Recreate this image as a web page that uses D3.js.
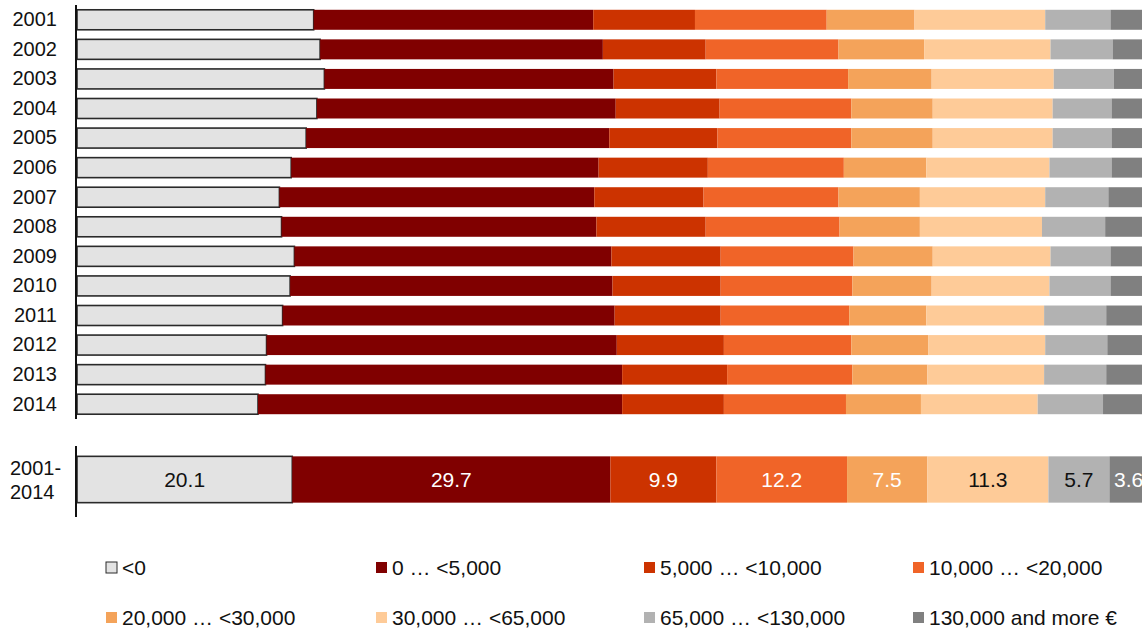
<!DOCTYPE html>
<html>
<head>
<meta charset="utf-8">
<script src="https://cdn.jsdelivr.net/npm/d3@7"></script>
<style>
html,body{margin:0;padding:0;background:#fff;}
svg{display:block;font-family:"Liberation Sans",Arial,sans-serif;}
</style>
</head>
<body>
<svg id="chart" width="1142" height="629"></svg>
<script>
const years = ["2001","2002","2003","2004","2005","2006","2007","2008","2009","2010","2011","2012","2013","2014"];
const seriesNames = ["<0","0 … <5,000","5,000 … <10,000","10,000 … <20,000","20,000 … <30,000","30,000 … <65,000","65,000 … <130,000","130,000 and more €"];
const colors = ["#e3e3e3","#800000","#cc3300","#f06428","#f4a35a","#fecb98","#b2b2b2","#808080"];
// per-year shares (%) per series
const s_lt0    = [22.1,22.7,23.1,22.4,21.4,20.0,18.9,19.1,20.3,19.9,19.2,17.7,17.6,16.9];
const s_0_5k   = [26.1,26.4,27.0,27.9,28.3,28.7,29.4,29.4,29.6,30.1,31.0,32.7,33.3,34.0];
const s_5_10k  = [ 9.5, 9.6, 9.6, 9.7,10.1,10.2,10.2,10.2,10.2,10.1, 9.9,10.0, 9.8, 9.5];
const s_10_20k = [12.3,12.4,12.3,12.3,12.5,12.7,12.6,12.5,12.4,12.3,12.0,11.9,11.7,11.4];
const s_20_30k = [ 8.2, 8.0, 7.8, 7.6, 7.6, 7.7, 7.6, 7.5, 7.4, 7.4, 7.2, 7.2, 7.0, 7.0];
const s_30_65k = [12.2,11.8,11.4,11.2,11.2,11.5,11.7,11.4,11.0,11.0,11.0,10.9,10.9,10.9];
const s_65_130k= [ 6.1, 5.8, 5.6, 5.5, 5.5, 5.8, 5.9, 5.9, 5.6, 5.7, 5.8, 5.8, 5.8, 6.1];
const s_130k   = [ 3.6, 3.3, 3.2, 3.3, 3.3, 3.4, 3.6, 4.0, 3.6, 3.7, 3.8, 3.8, 3.9, 4.2];
const summaryLabel = ["2001-","2014"];
const summaryValues = [20.1,29.7,9.9,12.2,7.5,11.3,5.7,3.6];
const summaryTextColors = ["#111","#fff","#fff","#fff","#fff","#111","#111","#fff"];

const seriesArrays = [s_lt0,s_0_5k,s_5_10k,s_10_20k,s_20_30k,s_30_65k,s_65_130k,s_130k];
const keys = seriesNames.map((d,i)=>"k"+i);
const table = years.map((y,yi)=>{
  const o = {year:y};
  seriesArrays.forEach((arr,i)=>{o[keys[i]] = arr[yi];});
  return o;
});

const svg = d3.select("#chart");
const x = d3.scaleLinear().domain([0,100]).range([77,1148]);
const y = d3.scaleBand().domain(years).range([5,419]).paddingInner(0.324).paddingOuter(0.162);
const color = d3.scaleOrdinal().domain(keys).range(colors);

const stack = d3.stack().keys(keys)(table);

const g = svg.append("g");
stack.forEach((layer,li)=>{
  g.selectAll(null).data(layer).enter().append("rect")
    .attr("x",d=>x(d[0]))
    .attr("y",d=>y(d.data.year))
    .attr("width",d=>x(d[1])-x(d[0]))
    .attr("height",y.bandwidth())
    .attr("fill",color(keys[li]))
    .attr("stroke", li===0 ? "#2a2a2a" : "none")
    .attr("stroke-width", li===0 ? 1.6 : 0);
});

// y axis (years)
const yAxis = d3.axisLeft(y).tickSize(0).tickPadding(19);
const ya = svg.append("g").attr("transform","translate(76,0)").call(yAxis);
ya.select(".domain").attr("stroke","#111").attr("stroke-width",2).attr("d","M0,5V419");
ya.selectAll("text").attr("font-size","20px").attr("fill","#111").attr("font-family","Liberation Sans, Arial, sans-serif");

// summary bar
const ys = d3.scaleBand().domain(["sum"]).range([445,514]).paddingInner(0).paddingOuter(0.245);
let cum = 0;
const sumData = summaryValues.map((v,i)=>{const d={x0:cum,x1:cum+v,v:v,i:i};cum+=v;return d;});
const sg = svg.append("g");
sg.selectAll("rect").data(sumData).enter().append("rect")
  .attr("x",d=>x(d.x0)).attr("y",ys("sum"))
  .attr("width",d=>x(d.x1)-x(d.x0)).attr("height",ys.bandwidth())
  .attr("fill",d=>colors[d.i])
  .attr("stroke",d=>d.i===0?"#2a2a2a":"none")
  .attr("stroke-width",d=>d.i===0?1.6:0);
sg.selectAll("text").data(sumData).enter().append("text")
  .attr("x",d=>(x(d.x0)+x(d.x1))/2)
  .attr("y",ys("sum")+ys.bandwidth()/2)
  .attr("dy","0.36em")
  .attr("text-anchor","middle")
  .attr("font-size","21px")
  .attr("fill",d=>summaryTextColors[d.i])
  .text(d=>d.v.toFixed(1));
svg.append("line").attr("x1",76).attr("x2",76).attr("y1",446).attr("y2",517)
  .attr("stroke","#111").attr("stroke-width",2);
const sl = svg.append("text").attr("font-size","20px").attr("fill","#111");
summaryLabel.forEach((t,i)=>{
  sl.append("tspan").attr("x",10).attr("y",475+i*24).text(t);
});

// legend
const legX = [106,376,644,913];
const legY = [568,618];
const lg = svg.append("g");
seriesNames.forEach((n,i)=>{
  const cx = legX[i%4], cy = legY[Math.floor(i/4)];
  lg.append("rect").attr("x",cx).attr("y",cy-6).attr("width",11).attr("height",11)
    .attr("fill",colors[i])
    .attr("stroke",i===0?"#2a2a2a":"none").attr("stroke-width",i===0?1:0);
  lg.append("text").attr("x",cx+16).attr("y",cy).attr("dy","0.35em")
    .attr("font-size","21px").attr("fill","#111").text(n);
});
</script>
</body>
</html>
